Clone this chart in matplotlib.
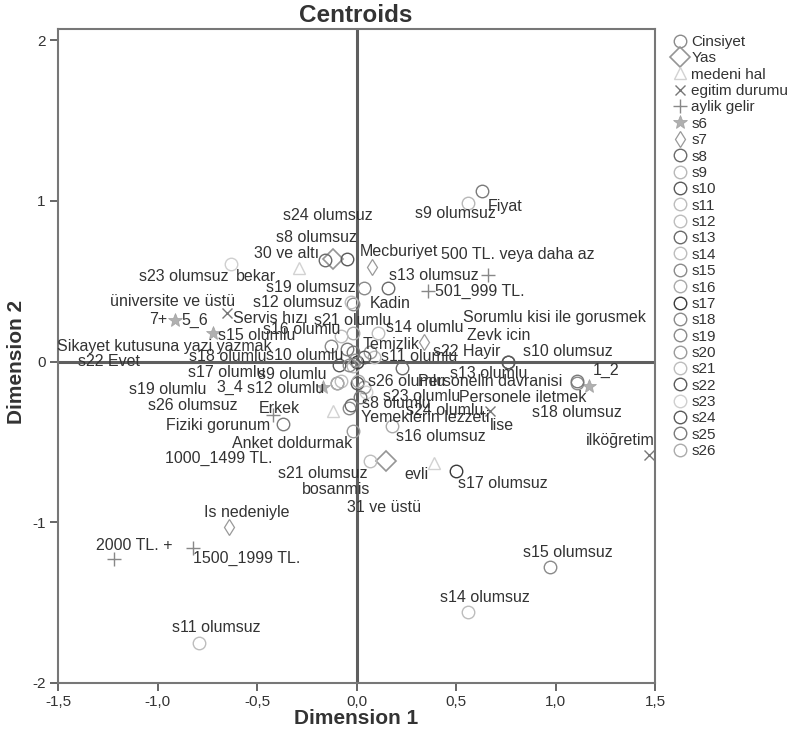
import matplotlib
matplotlib.use('Agg')
import matplotlib.pyplot as plt
from matplotlib.lines import Line2D

plt.rcParams['font.family'] = ['Liberation Sans', 'DejaVu Sans']

# ---------------- data ----------------
variables = ['Cinsiyet', 'Yas', 'medeni hal', 'egitim durumu', 'aylik gelir', 's6', 's7',
             's8', 's9', 's10', 's11', 's12', 's13', 's14', 's15', 's16', 's17', 's18',
             's19', 's20', 's21', 's22', 's23', 's24', 's25', 's26']

cat_var = (['Cinsiyet'] * 2 + ['Yas'] * 2 + ['medeni hal'] * 3 + ['egitim durumu'] * 3 +
           ['aylik gelir'] * 5 + ['s6'] * 4 + ['s7'] * 3 +
           ['s8'] * 2 + ['s9'] * 2 + ['s10'] * 2 + ['s11'] * 2 + ['s12'] * 2 + ['s13'] * 2 +
           ['s14'] * 2 + ['s15'] * 2 + ['s16'] * 2 + ['s17'] * 2 + ['s18'] * 2 + ['s19'] * 2 +
           ['s20'] * 4 + ['s21'] * 2 + ['s22'] * 2 + ['s23'] * 2 + ['s24'] * 2 +
           ['s25'] * 6 + ['s26'] * 2)

cat_label = ['Kadin', 'Erkek',
             '30 ve altı', '31 ve üstü',
             'bekar', 'evli', 'bosanmis',
             'üniversite ve üstü', 'lise', 'ilköğretim',
             '500 TL. veya daha az', '501_999 TL.', '1000_1499 TL.', '1500_1999 TL.', '2000 TL. +',
             '1_2', '3_4', '5_6', '7+',
             'Mecburiyet', 'Zevk icin', 'Is nedeniyle',
             's8 olumlu', 's8 olumsuz',
             's9 olumlu', 's9 olumsuz',
             's10 olumlu', 's10 olumsuz',
             's11 olumlu', 's11 olumsuz',
             's12 olumlu', 's12 olumsuz',
             's13 olumlu', 's13 olumsuz',
             's14 olumlu', 's14 olumsuz',
             's15 olumlu', 's15 olumsuz',
             's16 olumlu', 's16 olumsuz',
             's17 olumlu', 's17 olumsuz',
             's18 olumlu', 's18 olumsuz',
             's19 olumlu', 's19 olumsuz',
             'Sikayet kutusuna yazi yazmak', 'Sorumlu kisi ile gorusmek', 'Personele iletmek', 'Anket doldurmak',
             's21 olumlu', 's21 olumsuz',
             's22 Evet', 's22 Hayir',
             's23 olumlu', 's23 olumsuz',
             's24 olumlu', 's24 olumsuz',
             'Fiyat', 'Servis hızı', 'Temizlik', 'Yemeklerin lezzeti', 'Personelin davranisi', 'Fiziki gorunum',
             's26 olumlu', 's26 olumsuz']

dim1 = [-0.02, -0.04,
        -0.12, 0.15,
        -0.29, 0.39, -0.12,
        -0.65, 0.67, 1.47,
        0.66, 0.36, -0.42, -0.82, -1.22,
        1.17, -0.17, -0.72, -0.91,
        0.08, 0.34, -0.64,
        -0.03, -0.16,
        -0.02, 0.56,
        -0.09, 0.76,
        0.09, -0.79,
        -0.08, -0.03,
        0.23, 0.16,
        0.11, 0.56,
        -0.13, 0.97,
        -0.02, 0.18,
        0.00, 0.50,
        -0.04, 1.11,
        -0.10, 0.04,
        -0.01, 0.07, 0.04, -0.02,
        -0.08, 0.07,
        0.04, 0.76,
        0.05, -0.63,
        0.00, -0.05,
        0.63, -0.05, -0.02, 0.02, 1.11, -0.37,
        0.01, -0.10]

dim2 = [0.36, -0.29,
        0.64, -0.62,
        0.58, -0.63, -0.31,
        0.30, -0.31, -0.58,
        0.54, 0.44, -0.33, -1.16, -1.23,
        -0.15, -0.16, 0.18, 0.26,
        0.59, 0.12, -1.03,
        -0.27, 0.63,
        -0.03, 0.99,
        -0.02, 0.00,
        0.03, -1.75,
        -0.12, 0.37,
        -0.04, 0.46,
        0.18, -1.56,
        0.10, -1.28,
        0.18, -0.40,
        0.00, -0.68,
        -0.02, -0.13,
        -0.13, 0.46,
        0.01, 0.06, -0.16, -0.43,
        0.16, -0.62,
        0.03, 0.00,
        -0.19, 0.61,
        -0.13, 0.64,
        1.06, 0.08, 0.06, -0.22, -0.12, -0.39,
        -0.12, -0.13]

# label offsets from marker (pixels): left edge / vertical centre of text
label_offset = {
    'Kadin': (17, 0), 'Erkek': (-90, 0),
    '30 ve altı': (-79, 5), '31 ve üstü': (-39, -46),
    'bekar': (-63, -8), 'evli': (-30, -12), 'bosanmis': (-31, -78),
    'üniversite ve üstü': (-117, 12), 'lise': (0, -14), 'ilköğretim': (-63, 14),
    '500 TL. veya daha az': (-47, 20), '501_999 TL.': (7, -1), '1000_1499 TL.': (-108, -44),
    '1500_1999 TL.': (0, -10), '2000 TL. +': (-18, 14),
    '1_2': (3, 15), '3_4': (-106, 0), '5_6': (-32, 12), '7+': (-26, 0),
    'Mecburiyet': (-13, 15), 'Zevk icin': (43, 7), 'Is nedeniyle': (-25, 15),
    's8 olumlu': (11, 2), 's8 olumsuz': (-49, 23),
    's9 olumlu': (-95, -8), 's9 olumsuz': (-53, -11),
    's10 olumlu': (-73, 9), 's10 olumsuz': (15, 10),
    's11 olumlu': (7, 0), 's11 olumsuz': (-27, 15),
    's12 olumlu': (-94, -8), 's12 olumsuz': (-98, 0),
    's13 olumlu': (48, -5), 's13 olumsuz': (1, 12),
    's14 olumlu': (8, 5), 's14 olumsuz': (-28, 15),
    's15 olumlu': (-113, 10), 's15 olumsuz': (-27, 15),
    's16 olumlu': (-90, 3), 's16 olumsuz': (4, -11),
    's17 olumlu': (-169, -11), 's17 olumsuz': (2, -13),
    's18 olumlu': (-160, 8), 's18 olumsuz': (-45, -30),
    's19 olumlu': (-208, -7), 's19 olumsuz': (-98, 0),
    'Sikayet kutusuna yazi yazmak': (-298, 14), 'Sorumlu kisi ile gorusmek': (93, 34),
    'Personele iletmek': (95, -10), 'Anket doldurmak': (-121, -13),
    's21 olumlu': (-27, 15), 's21 olumsuz': (-92, -12),
    's22 Evet': (-286, -5), 's22 Hayir': (-75, 10),
    's23 olumlu': (17, -4), 's23 olumsuz': (-92, -13),
    's24 olumlu': (50, -28), 's24 olumsuz': (-64, 43),
    'Fiyat': (6, -15), 'Servis hızı': (-114, 30), 'Temizlik': (10, 7),
    'Yemeklerin lezzeti': (1, -21), 'Personelin davranisi': (-159, -1), 'Fiziki gorunum': (-117, -1),
    's26 olumlu': (10, -1), 's26 olumsuz': (-189, -23),
}

# ---------------- styles ----------------
circle_col = {'Cinsiyet': '#8a8a8a', 's8': '#6a6a6a', 's9': '#b8b8b8', 's10': '#5a5a5a',
              's11': '#bdbdbd', 's12': '#bdbdbd', 's13': '#6a6a6a', 's14': '#bdbdbd',
              's15': '#8a8a8a', 's16': '#aaaaaa', 's17': '#3a3a3a', 's18': '#8a8a8a',
              's19': '#8a8a8a', 's20': '#9a9a9a', 's21': '#bdbdbd', 's22': '#5a5a5a',
              's23': '#cfcfcf', 's24': '#5a5a5a', 's25': '#7a7a7a', 's26': '#ababab'}


def style(v):
    if v == 'Yas':
        return dict(marker='D', ms=10, mfc='none', mec='#959595', mew=1.2)
    if v == 'medeni hal':
        return dict(marker='^', ms=8, mfc='none', mec='#d2d2d2', mew=1.0)
    if v == 'egitim durumu':
        return dict(marker='x', ms=7, mfc='none', mec='#777777', mew=1.0)
    if v == 'aylik gelir':
        return dict(marker='+', ms=10, mfc='none', mec='#888888', mew=1.0)
    if v == 's6':
        return dict(marker='*', ms=10, mfc='#b0b0b0', mec='#a0a0a0', mew=0.5)
    if v == 's7':
        return dict(marker='d', ms=8, mfc='none', mec='#999999', mew=0.9)
    return dict(marker='o', ms=9, mfc='none', mec=circle_col[v], mew=1.0)


# ---------------- figure ----------------
fig = plt.figure(figsize=(7.99, 7.42), dpi=100)
ax = fig.add_axes([58 / 799, 1 - 683 / 742, 597 / 799, 654 / 742])
ax.set_xlim(-1.5, 1.5)
ax.set_ylim(-2, 2.07)

ax.axhline(0, color='#5e5e5e', lw=2.2, zorder=1)
ax.axvline(0, color='#5e5e5e', lw=2.2, zorder=1)

for v in variables:
    xs = [dim1[i] for i in range(len(cat_var)) if cat_var[i] == v]
    ys = [dim2[i] for i in range(len(cat_var)) if cat_var[i] == v]
    ax.plot(xs, ys, ls='none', zorder=3, **style(v))

for i, lab in enumerate(cat_label):
    dx, dy = label_offset[lab]
    ax.annotate(lab, xy=(dim1[i], dim2[i]), xytext=(dx, dy), textcoords='offset pixels',
                ha='left', va='center', fontsize=11.5, color='#333333', zorder=4)

ax.set_xticks([-1.5, -1.0, -0.5, 0.0, 0.5, 1.0, 1.5])
ax.set_xticklabels(['-1,5', '-1,0', '-0,5', '0,0', '0,5', '1,0', '1,5'])
ax.set_yticks([-2, -1, 0, 1, 2])
ax.set_yticklabels(['-2', '-1', '0', '1', '2'])
ax.tick_params(direction='out', length=6, width=1.4, color='#666666', labelcolor='#333333',
               labelsize=11, pad=3)
for s in ax.spines.values():
    s.set_color('#777777')
    s.set_linewidth(1.5)

fig.text(356 / 799, 1 - 15 / 742, 'Centroids', ha='center', va='center',
         fontsize=17.5, fontweight='bold', color='#333333')
fig.text(356 / 799, 1 - 719 / 742, 'Dimension 1', ha='center', va='center',
         fontsize=15, fontweight='bold', color='#333333')
fig.text(17 / 799, 1 - 362 / 742, 'Dimension 2', ha='center', va='center', rotation=90,
         fontsize=15, fontweight='bold', color='#333333')

handles = [Line2D([], [], ls='none', **style(v)) for v in variables]
fig.legend(handles, variables, loc='upper left', bbox_to_anchor=(670 / 799, 1 - 35 / 742),
           frameon=False, fontsize=11, labelspacing=0.155, handletextpad=0.1,
           handlelength=1.3, borderpad=0, borderaxespad=0, labelcolor='#333333')

fig.savefig('out.png', dpi=100)
